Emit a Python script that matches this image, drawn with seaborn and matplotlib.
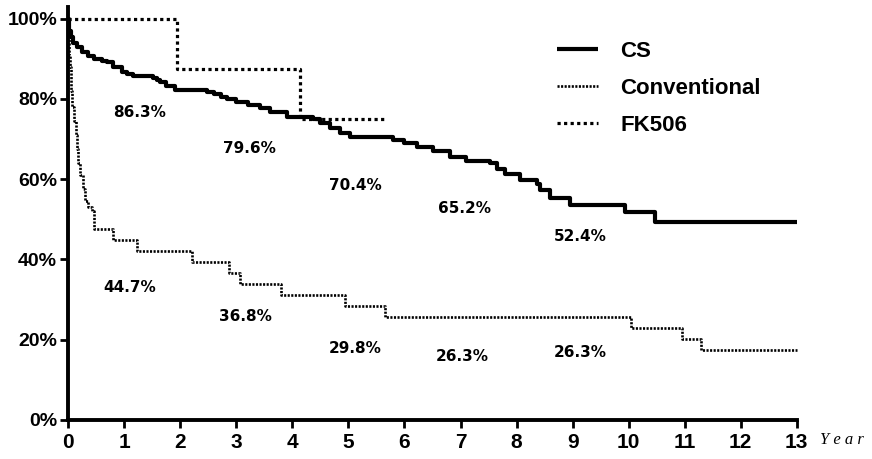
import matplotlib
matplotlib.use("Agg")
import matplotlib.pyplot as plt
import seaborn as sns
import pandas as pd

# ---- data ----
cs_time = [0, 0.02, 0.05, 0.09, 0.15, 0.24, 0.35, 0.45, 0.6, 0.69, 0.8, 0.95, 1.05, 1.16,
           1.52, 1.58, 1.64, 1.75, 1.9, 2.47, 2.6, 2.72, 2.83, 3.0, 3.2, 3.42, 3.6, 3.9,
           4.37, 4.5, 4.67, 4.85, 5.03, 5.8, 6.0, 6.22, 6.5, 6.82, 7.1, 7.53, 7.65, 7.8,
           8.07, 8.36, 8.42, 8.6, 8.96, 9.94, 10.47, 13]
cs_surv = [100, 97, 95.5, 94, 93, 91.6, 90.8, 90, 89.5, 89.1, 88, 86.7, 86.2, 85.6,
           85.1, 84.6, 84.2, 83.3, 82.3, 81.8, 81.2, 80.6, 80.0, 79.3, 78.6, 77.8, 76.8, 75.5,
           75.0, 74.0, 72.8, 71.6, 70.4, 69.8, 69.0, 68.1, 66.9, 65.6, 64.6, 64.0, 62.6, 61.2,
           59.8, 58.8, 57.2, 55.2, 53.5, 51.9, 49.4, 49.4]

conv_time = [0, 0.005, 0.01, 0.02, 0.03, 0.04, 0.05, 0.07, 0.10, 0.13, 0.15, 0.18, 0.21,
             0.26, 0.30, 0.36, 0.42, 0.45, 0.80, 1.23, 2.2, 2.86, 3.07, 3.8, 4.93, 5.65,
             10.05, 10.95, 11.3, 13]
conv_surv = [100, 97, 94, 91, 88, 85, 82, 78, 74.5, 71, 67.5, 64, 61,
             57.5, 54.5, 53, 52, 47.5, 44.8, 42, 39.3, 36.6, 33.8, 31.1, 28.4, 25.7,
             22.9, 20.1, 17.4, 17.4]

fk_time = [0, 1.94, 4.14, 5.66]
fk_surv = [100, 87.5, 75, 75]

series_names = ["CS", "Conventional", "FK506"]

cs_labels = ["86.3%", "79.6%", "70.4%", "65.2%", "52.4%"]
cs_label_x = [1.28, 3.24, 5.12, 7.08, 9.14]
cs_label_y = [76.5, 67.7, 58.5, 52.8, 45.8]
conv_labels = ["44.7%", "36.8%", "29.8%", "26.3%", "26.3%"]
conv_label_x = [1.1, 3.16, 5.12, 7.03, 9.14]
conv_label_y = [33.1, 25.9, 17.7, 15.9, 16.7]

x_ticks = list(range(0, 14))
y_ticks = [0, 20, 40, 60, 80, 100]
y_tick_labels = ["0%", "20%", "40%", "60%", "80%", "100%"]

# ---- plot ----
sns.set_theme(style="ticks")
plt.rcParams["font.family"] = ["Liberation Sans", "DejaVu Sans"]
for key in ["text.color", "axes.labelcolor", "xtick.color", "ytick.color", "axes.edgecolor"]:
    plt.rcParams[key] = "black"

fig = plt.figure(figsize=(8.72, 4.59), dpi=100)
ax = fig.add_axes([68.3 / 872, 39 / 459, (796.7 - 68.3) / 872, (459 - 39 - 7) / 459])

frames = [
    pd.DataFrame({"t": cs_time, "s": cs_surv, "g": series_names[0]}),
    pd.DataFrame({"t": conv_time, "s": conv_surv, "g": series_names[1]}),
    pd.DataFrame({"t": fk_time, "s": fk_surv, "g": series_names[2]}),
]
styles = [
    dict(lw=3.0, dashes=None),
    dict(lw=1.9, dashes=(0.8, 0.55)),
    dict(lw=2.3, dashes=(1.0, 1.05)),
]
handles = []
for df, st in zip(frames, styles):
    n_before = len(ax.get_lines())
    sns.lineplot(data=df, x="t", y="s", ax=ax, color="black", lw=st["lw"],
                 drawstyle="steps-post", estimator=None, sort=False, legend=False,
                 solid_capstyle="butt", dash_capstyle="butt")
    line = ax.get_lines()[n_before]
    if st["dashes"] is not None:
        line.set_dashes(st["dashes"])
    line.set_clip_on(False)
    handles.append(line)

ax.set_xlim(0, 13)
ax.set_ylim(0, 102.9)
ax.set_xticks(x_ticks)
ax.set_xticklabels([str(v) for v in x_ticks], fontsize=15, fontweight="bold")
ax.set_yticks(y_ticks)
ax.set_yticklabels(y_tick_labels, fontsize=14, fontweight="bold")
ax.set_xlabel("")
ax.set_ylabel("")
sns.despine(ax=ax)
for sp in ["left", "bottom"]:
    ax.spines[sp].set_linewidth(2.8)
    ax.spines[sp].set_color("black")
ax.tick_params(axis="x", length=6, width=2, pad=3, colors="black")
ax.tick_params(axis="y", length=6, width=2, pad=2, colors="black")
ax.set_facecolor("white")
fig.patch.set_facecolor("white")

for lab, x, y in zip(cs_labels, cs_label_x, cs_label_y):
    ax.text(x, y, lab, ha="center", va="center", fontsize=11, fontweight="bold",
            family=["DejaVu Sans"], color="black")
for lab, x, y in zip(conv_labels, conv_label_x, conv_label_y):
    ax.text(x, y, lab, ha="center", va="center", fontsize=11, fontweight="bold",
            family=["DejaVu Sans"], color="black")

ax.text(13.42, -5.0, "Y e a r", ha="left", va="center", fontsize=12,
        fontstyle="italic", family=["Liberation Serif", "DejaVu Serif"], clip_on=False,
        color="black")

fig.legend(handles, series_names, loc="upper left",
           bbox_to_anchor=(557 / 872, 1 - 41 / 459), frameon=False,
           borderpad=0, borderaxespad=0, handlelength=1.86, handletextpad=1.0,
           labelspacing=0.72, prop={"size": 16, "weight": "bold"})

fig.savefig("out.png", dpi=100, facecolor="white")
